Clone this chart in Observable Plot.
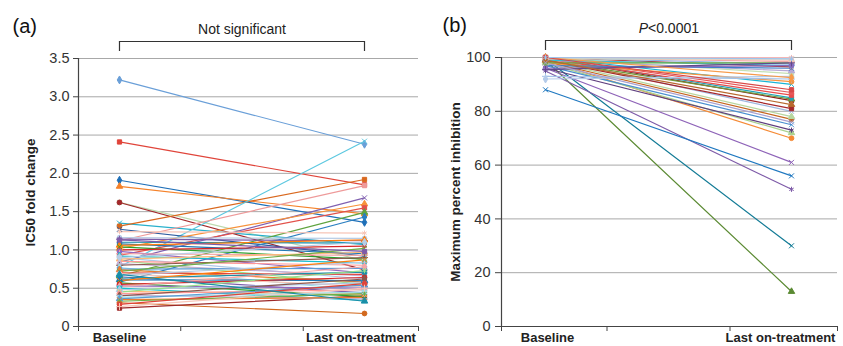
<!DOCTYPE html>
<html>
<head>
<meta charset="utf-8">
<script src="https://cdn.jsdelivr.net/npm/d3@7"></script>
<script src="https://cdn.jsdelivr.net/npm/@observablehq/plot@0.6"></script>
<style>
  html, body { margin: 0; padding: 0; background: #fff; }
  #wrap { display: flex; width: 843px; height: 346px; }
</style>
</head>
<body>
<div id="wrap"></div>
<script>
// ---------- data ----------
const timepoints = ["Baseline", "Last on-treatment"];

// Panel (a): IC50 fold change per patient
const ic50Baseline = [3.22, 2.41, 1.91, 1.83, 1.62, 1.62, 1.35, 1.31, 0.78, 1.27, 0.84, 1.02, 0.93, 0.66, 0.58, 1.12,
  0.31, 0.24,
  1.24, 1.16, 1.14, 1.10, 1.08, 1.06, 1.04, 1.00, 0.98, 0.95, 0.92, 0.90, 0.88, 0.86, 0.85, 0.82, 0.80, 0.77, 0.75,
  0.74, 0.72, 0.70, 0.69, 0.67, 0.65, 0.63, 0.61, 0.60, 0.57, 0.55, 0.53, 0.52, 0.50, 0.48, 0.46, 0.45, 0.43, 0.41,
  0.40, 0.38, 0.36, 0.35, 0.33, 0.29, 0.26, 0.90, 1.13, 0.68];
const ic50Last = [2.38, 1.85, 1.36, 1.47, 0.86, 0.74, 1.07, 1.92, 2.42, 0.92, 1.68, 1.60, 1.55, 1.49, 1.43, 1.84,
  0.17, 0.40,
  1.22, 1.15, 1.12, 1.09, 0.95, 1.13, 0.88, 1.05, 0.70, 0.93, 0.83, 0.62, 0.97, 0.55, 0.80, 0.66, 0.90, 0.47, 0.76,
  0.58, 1.02, 0.68, 0.52, 0.84, 0.44, 0.71, 0.60, 0.87, 0.39, 0.64, 0.50, 0.78, 0.34, 0.57, 0.42, 0.73, 0.48, 0.36,
  0.62, 0.45, 0.54, 0.38, 0.43, 0.56, 0.50, 1.10, 0.98, 0.33];

// Panel (b): maximum percent inhibition per patient
const inhibBaseline = [99, 99.5, 95, 88, 96, 99, 98, 96, 97, 98.5, 99, 100, 99, 100, 99, 100, 99.5, 100, 100, 98,
  93, 92, 100, 99, 97, 100, 99, 100, 98, 100, 100, 99.5, 100, 96, 95.5, 100, 100, 99, 98, 100];
const inhibLast = [13, 30, 51, 56, 61, 70, 72, 73, 75, 77, 78, 80, 81, 84, 84.5, 85, 86, 87, 90, 91,
  92, 93, 94, 95, 96, 96.5, 97, 97.5, 98, 98.5, 99, 99.5, 100, 97, 98, 92.5, 88, 82.5, 76, 99.5];

const ticksA = [0, 0.5, 1.0, 1.5, 2.0, 2.5, 3.0, 3.5];
const ticksB = [0, 20, 40, 60, 80, 100];

// ---------- styles ----------
const cycleColors = ["#1F77B4", "#FF7F0E", "#2CA02C", "#D62728", "#9467BD", "#F4A6A6", "#17BECF", "#AEC7E8",
  "#FFBB78", "#98DF8A", "#FF9896", "#C5B0D5", "#8C564B", "#9EDAE5", "#5B9BD5", "#ED7D31", "#70AD47", "#E0443A",
  "#F7C6B8", "#B9CDE5", "#7E5BA8", "#1A8FA8"];
const cycleSymbols = ["diamond", "square", "triangle", "times", "asterisk", "circle", "plus"];

const colorsA = ["#6A9FD8", "#E0443A", "#1E6FB8", "#F5822A", "#BCD9AE", "#A3282B", "#28B0CC", "#D9681E",
  "#5CC8E0", "#2C5B9E", "#8060B0", "#F7923A", "#E2514A", "#5FA33E", "#2A7FC0", "#EE9A9A",
  "#D2691E", "#9E2A2A"];
const symbolsA = ["diamond", "square", "diamond", "triangle", "square", "circle", "times", "square",
  "times", "times", "times", "triangle", "square", "triangle", "diamond", "square",
  "circle", "square"];

const colorsB = ["#5B8A33", "#137B96", "#7E5BA8", "#1F78C0", "#8E63B8", "#F58A35", "#A9D18E", "#5E3E7E",
  "#4A90D0", "#C5651E", "#B7D7A0", "#9DB7E0", "#A5282C", "#8C2020", "#6E9A3C", "#1FA3B8", "#E84C4C", "#E6585A",
  "#19B5D6", "#F7943F", "#A4C2E8", "#B4CBEA", "#C5E0B4", "#B6A9D6", "#3C7EC8", "#B03A3A", "#35BED8", "#8EB4E3",
  "#70AD47", "#F2A7A7", "#F6C1B5", "#D8E4C8", "#F4B6B6", "#8A6BBE", "#604A8A", "#F79A4A", "#D94848", "#B8692E",
  "#A8A0D0", "#9CC3EC"];
const symbolsB = ["triangle", "times", "asterisk", "times", "times", "circle", "triangle", "asterisk",
  "times", "circle", "triangle", "times", "square", "square", "triangle", "diamond", "square", "square",
  "times", "circle"];

const colorOf = (list, i) => list[i] || cycleColors[i % cycleColors.length];
const symbolOf = (list, i) => list[i] || cycleSymbols[i % cycleSymbols.length];

function panel(o) {
  const rows = o.base.flatMap((b, i) => [{id: i, t: 0, v: b}, {id: i, t: 1, v: o.last[i]}]);
  const height = 346;
  const plotH = height - o.marginTop - o.marginBottom;
  const yMax = o.yTicks[o.yTicks.length - 1];
  const ky = yMax / plotH;
  const bracketTop = yMax + 17 * ky;
  const bracketBot = yMax + 7 * ky;
  const noteMarks = o.italicP
    ? [
        Plot.text([o.noteA], {x: 0.5, frameAnchor: "top", dy: -29, dx: -20.5, lineAnchor: "middle",
          textAnchor: "end", fontStyle: "italic", fontSize: 14, fill: "#222"}),
        Plot.text([o.noteB], {x: 0.5, frameAnchor: "top", dy: -29, dx: -20.5, lineAnchor: "middle",
          textAnchor: "start", fontSize: 14, fill: "#222"})
      ]
    : [Plot.text([o.note], {x: 0.5, frameAnchor: "top", dy: -29, lineAnchor: "middle", fontSize: 14, fill: "#222"})];
  return Plot.plot({
    width: o.width,
    height,
    marginLeft: o.marginLeft,
    marginRight: o.marginRight,
    marginTop: o.marginTop,
    marginBottom: o.marginBottom,
    style: {fontFamily: "Liberation Sans, Arial, sans-serif", fontSize: "14px", color: "#333", background: "#fff", overflow: "visible"},
    x: {type: "linear", domain: o.xDomain},
    y: {domain: [0, yMax]},
    color: {type: "identity"},
    symbol: {type: "identity"},
    marks: [
      Plot.gridY(o.yTicks, {stroke: "#a8a8a8", strokeOpacity: 1}),
      Plot.axisY(o.yTicks, {tickSize: o.tickSize, tickPadding: o.tickPadding, tickFormat: o.tickFormat, label: null, fontSize: 14.5, stroke: "#444"}),
      Plot.axisX([o.xDomain[0], 0.25, 0.75, o.xDomain[1]], {tickSize: 5, tickFormat: () => "", label: null, stroke: "#444"}),
      Plot.ruleY([0], {stroke: "#444", strokeWidth: 1.2}),
      Plot.ruleX([o.xDomain[0]], {stroke: "#444", strokeWidth: 1.2}),
      Plot.line(rows, {x: "t", y: "v", z: "id", stroke: d => colorOf(o.colors, d.id), strokeWidth: 1.2}),
      Plot.dot(rows, {x: "t", y: "v", symbol: d => symbolOf(o.symbols, d.id), fill: d => colorOf(o.colors, d.id),
        stroke: d => colorOf(o.colors, d.id), strokeWidth: 1, r: 2.4}),
      // bracket
      Plot.ruleY([bracketTop], {x1: 0, x2: 1, stroke: "#333", strokeWidth: 1.2}),
      Plot.ruleX([0, 1], {y1: bracketBot, y2: bracketTop, stroke: "#333", strokeWidth: 1.2}),
      ...noteMarks,
      // panel tag
      Plot.text([o.tag], {frameAnchor: "top-left", dx: o.tagX - o.marginLeft, dy: -32, textAnchor: "start",
        lineAnchor: "middle", fontSize: 20, fill: "#111"}),
      // y-axis title
      Plot.text([o.yLabel], {frameAnchor: "left", dx: o.yLabelX - o.marginLeft, rotate: -90, textAnchor: "middle",
        lineAnchor: "middle", fontWeight: "bold", fontSize: 13.5, fill: "#222"}),
      // category labels
      Plot.text([timepoints[0]], {x: 0, frameAnchor: "bottom", dy: 6, dx: o.baseDx, lineAnchor: "top",
        fontWeight: "bold", fontSize: 13, fill: "#222"}),
      Plot.text([timepoints[1]], {x: 1, frameAnchor: "bottom", dy: 6, dx: o.lastDx, lineAnchor: "top",
        fontWeight: "bold", fontSize: 13, fill: "#222"})
    ]
  });
}

const wrap = document.getElementById("wrap");
wrap.append(panel({
  base: ic50Baseline, last: ic50Last, colors: colorsA, symbols: symbolsA,
  yTicks: ticksA, tickFormat: d => d === 0 ? "0" : d3.format(".1f")(d),
  yLabel: "IC50 fold change", tag: "(a)", note: "Not significant",
  width: 421, marginLeft: 78, marginRight: 3, marginTop: 58, marginBottom: 20,
  xDomain: [-0.1673, 1.2204], tickSize: 5, tickPadding: 4,
  tagX: 12, yLabelX: 30, baseDx: 0, lastDx: -3.5
}));
wrap.append(panel({
  base: inhibBaseline, last: inhibLast, colors: colorsB, symbols: symbolsB,
  yTicks: ticksB, tickFormat: d => String(d),
  yLabel: "Maximum percent inhibition", tag: "(b)", italicP: true, noteA: "P", noteB: "<0.0001",
  width: 422, marginLeft: 80, marginRight: 6, marginTop: 57, marginBottom: 20,
  xDomain: [-0.1789, 1.187], tickSize: 6, tickPadding: 5,
  tagX: 21, yLabelX: 34, baseDx: 2, lastDx: -11
}));
</script>
</body>
</html>
